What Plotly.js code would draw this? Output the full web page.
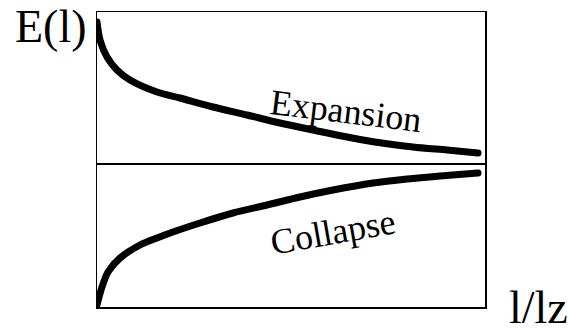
<!DOCTYPE html>
<html>
<head>
<meta charset="utf-8">
<script src="https://cdn.plot.ly/plotly-3.0.1.min.js"></script>
<style>
html,body{margin:0;padding:0;background:#fff;}
#chart{width:571px;height:330px;}
.scatterlayer .js-line{stroke-linecap:round;}
#chart svg text, #chart .annotation-text{font-family:'Liberation Serif','Times New Roman',Tinos,serif !important;}
</style>
</head>
<body>
<div id="chart"></div>
<script>
// Expansion branch (upper curve)
const expansionX = [0, 3, 10, 20, 33, 60, 83, 116, 150, 183, 216, 266, 316, 350, 381];
const expansionY = [142, 124, 107, 94, 84, 72, 66, 57, 49, 41, 34, 24, 17, 14, 11];
// Collapse branch (lower curve)
const collapseX = [0, 5, 11, 23, 43, 60, 76, 103, 136, 170, 203, 236, 276, 310, 343, 381];
const collapseY = [-141, -123, -108, -94, -81, -74, -68, -59, -49, -41, -33, -26, -19, -15, -12, -9];

const labels = {
  yTitle: "E(l)",
  xTitle: "l/lz",
  upper: "Expansion",
  lower: "Collapse"
};

const lineStyle = {color: "#000", width: 7, shape: "spline", smoothing: 0.8};

const traces = [
  {x: expansionX, y: expansionY, mode: "lines", line: lineStyle, hoverinfo: "skip"},
  {x: collapseX, y: collapseY, mode: "lines", line: lineStyle, hoverinfo: "skip"}
];

const fam = "Liberation Serif";
function fnt(size) { return {family: fam, size: size, color: "#000"}; }

const layout = {
  width: 571, height: 330,
  margin: {l: 97, r: 86, t: 12, b: 23, pad: 0},
  paper_bgcolor: "#fff", plot_bgcolor: "#fff",
  font: {family: fam, color: "#000"},
  showlegend: false,
  xaxis: {range: [0, 388], showline: true, mirror: true, linecolor: "#000", linewidth: 1.5,
          showgrid: false, zeroline: false, showticklabels: false, ticks: "", fixedrange: true},
  yaxis: {range: [-143, 152], showline: true, mirror: true, linecolor: "#000", linewidth: 1.5,
          showgrid: false, zeroline: true, zerolinecolor: "#000", zerolinewidth: 1.5,
          showticklabels: false, ticks: "", fixedrange: true},
  annotations: [
    {text: labels.yTitle, xref: "paper", yref: "paper", x: -0.1186, y: 0.951,
     xanchor: "center", yanchor: "middle", showarrow: false, font: fnt(46)},
    {text: labels.xTitle, xref: "paper", yref: "paper", x: 1.1366, y: 0.0,
     xanchor: "center", yanchor: "middle", showarrow: false, font: fnt(46)},
    {text: labels.upper, xref: "paper", yref: "paper", x: 0.642, y: 0.666, textangle: 7,
     xanchor: "center", yanchor: "middle", showarrow: false, font: fnt(36)},
    {text: labels.lower, xref: "paper", yref: "paper", x: 0.608, y: 0.254, textangle: -10,
     xanchor: "center", yanchor: "middle", showarrow: false, font: fnt(36)}
  ]
};

Plotly.newPlot("chart", traces, layout, {displayModeBar: false, staticPlot: true});
</script>
</body>
</html>
